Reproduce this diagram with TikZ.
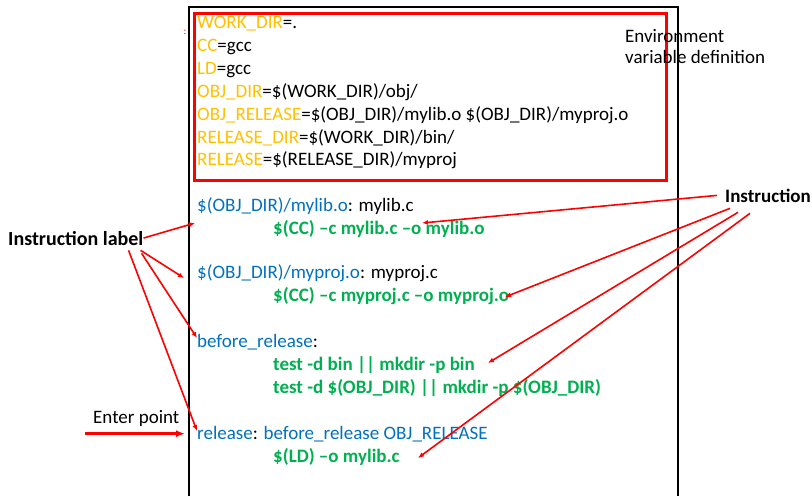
\documentclass[tikz,border=0pt]{standalone}
\usepackage{fontspec}
\setmainfont{Carlito}
\usetikzlibrary{arrows.meta, positioning, calc}

\definecolor{varorange}{HTML}{FFC000}
\definecolor{tgtblue}{HTML}{0070C0}
\definecolor{cmdgreen}{HTML}{00B050}

\begin{document}
\begin{tikzpicture}[x=1pt, y=-1pt,
    line/.style={anchor=base west, inner sep=0pt, font=\fontsize{19}{23}\selectfont},
    cmd/.style={anchor=base west, inner sep=0pt, cmdgreen, font=\fontsize{19}{23}\selectfont\bfseries},
    note/.style={anchor=base west, inner sep=0pt, font=\fontsize{19}{23}\selectfont},
    note_bold/.style={anchor=base west, inner sep=0pt, font=\fontsize{19}{23}\selectfont\bfseries},
    arrow/.style={-{Latex[length=6pt,width=5pt]}, red, line width=1.6pt},
    arrow_big/.style={-{Latex[length=9pt,width=7pt]}, red, line width=3pt}
]
\useasboundingbox (0,0) rectangle (812,496);

% frame and definition box
\draw[line width=1.5pt] (189,496) -- (189,7) -- (678,7) -- (678,496);
\draw[red, line width=3pt] (194,13) rectangle (666,180);
\node[red, inner sep=0pt, font=\fontsize{10}{10}\selectfont] (dot) at (185,32) {:};

% variables
\node[line] (wd) at (197,28) {\textcolor{varorange}{WORK\_DIR}=.};
\node[line] (cc) at (197,51) {\textcolor{varorange}{CC}=gcc};
\node[line] (ld) at (197,74) {\textcolor{varorange}{LD}=gcc};
\node[line] (od) at (197,97) {\textcolor{varorange}{OBJ\_DIR}=\$(WORK\_DIR)/obj/};
\node[line] (orel) at (197,120) {\textcolor{varorange}{OBJ\_RELEASE}=\$(OBJ\_DIR)/mylib.o \$(OBJ\_DIR)/myproj.o};
\node[line] (rd) at (197,143) {\textcolor{varorange}{RELEASE\_DIR}=\$(WORK\_DIR)/bin/};
\node[line] (rl) at (197,165) {\textcolor{varorange}{RELEASE}=\$(RELEASE\_DIR)/myproj};

% rules
\node[line] (t1) at (197,211) {\textcolor{tgtblue}{\$(OBJ\_DIR)/mylib.o}: mylib.c};
\node[cmd] (c1) at (273,234) {\$(CC) –c mylib.c –o mylib.o};
\node[line] (t2) at (197,278) {\textcolor{tgtblue}{\$(OBJ\_DIR)/myproj.o}: myproj.c};
\node[cmd] (c2) at (273,301) {\$(CC) –c myproj.c –o myproj.o};
\node[line] (t3) at (197,347) {\textcolor{tgtblue}{before\_release}:};
\node[cmd] (c3) at (273,370) {test -d bin || mkdir -p bin};
\node[cmd] (c3b) at (273,393) {test -d \$(OBJ\_DIR) || mkdir -p \$(OBJ\_DIR)};
\node[line] (t4) at (197,439) {\textcolor{tgtblue}{release}: \textcolor{tgtblue}{before\_release OBJ\_RELEASE}};
\node[cmd] (c4) at (273,462) {\$(LD) –o mylib.c};

% labels
\node[note] (env1) at (625,42) {Environment};
\node[note] (env2) at (625,63) {variable definition};
\node[note_bold, font=\fontsize{20}{24}\selectfont\bfseries] (lbl) at (8,245) {Instruction label};
\node[note_bold] (instr) at (725,202) {Instruction};
\node[note] (enter) at (93,423) {Enter point};

% arrows from instruction label
\draw[arrow] (lbl.east) -- ([shift={(-2,12)}]t1.base west);
\draw[arrow] ([shift={(-3,5)}]lbl.south east) -- ([shift={(-13,0)}]t2.base west);
\draw[arrow] ([shift={(-2,8)}]lbl.south east) -- ([shift={(0,-9)}]t3.base west);
\draw[arrow] ([shift={(-15,5)}]lbl.south east) -- ([shift={(0,-8)}]t4.base west);

% arrows from instruction
\draw[arrow] ([xshift=-8pt]instr.west) -- ([shift={(149,-11)}]c1.base west);
\draw[arrow] ([shift={(5,6)}]instr.south west) -- ([shift={(232,-4)}]c2.base west);
\draw[arrow] ([shift={(13,10)}]instr.south west) -- ([shift={(215,-7)}]c3.base west);
\draw[arrow] ([shift={(25,11)}]instr.south west) -- ([shift={(145,-4)}]c4.base west);

% enter point
\draw[arrow_big] ([xshift=-112pt]t4.west) -- ([xshift=-12pt]t4.west);

\end{tikzpicture}
\end{document}
